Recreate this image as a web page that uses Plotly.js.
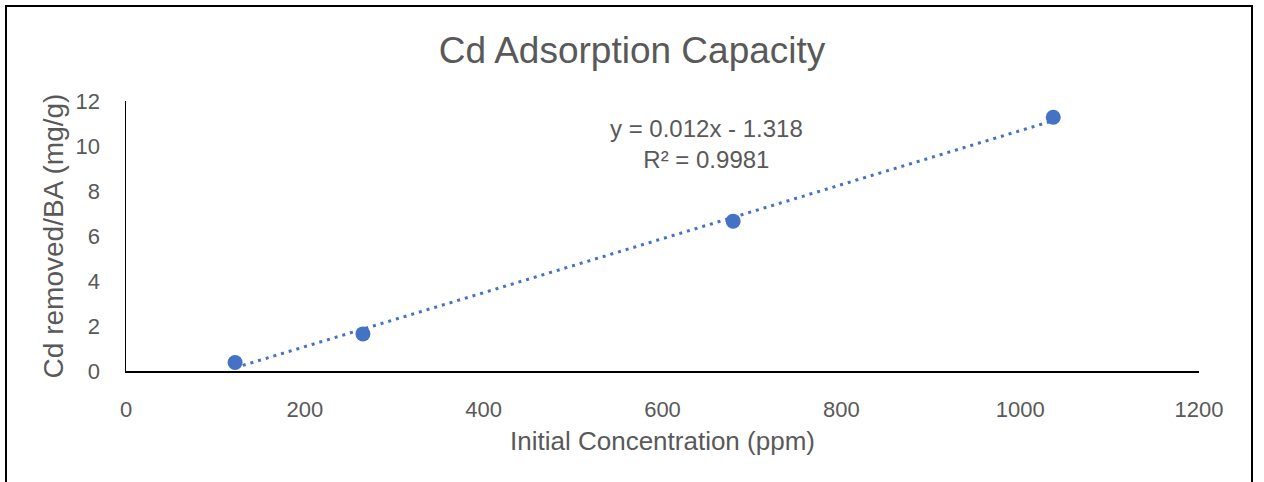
<!DOCTYPE html>
<html>
<head>
<meta charset="utf-8">
<script src="https://cdn.plot.ly/plotly-3.0.1.min.js"></script>
<style>
  html, body { margin: 0; padding: 0; background: #fff; overflow: hidden; }
  #wrap { position: relative; width: 1264px; height: 482px; }
  #chart { width: 1264px; height: 482px; }
  #frame { position: absolute; left: 5px; top: 5px; width: 1248px; height: 500px;
           border: 2px solid #000; pointer-events: none; box-sizing: border-box; }
</style>
</head>
<body>
<div id="wrap">
  <div id="chart"></div>
  <div id="frame"></div>
</div>
<script>
// Data
var concentration = [122, 265, 679, 1037];      // Initial Concentration (ppm)
var cdRemoved = [0.38, 1.65, 6.66, 11.28];      // Cd removed/BA (mg/g)
var trendSlope = 0.012;
var trendIntercept = -1.318;
var rSquared = 0.9981;
var xTicks = [0, 200, 400, 600, 800, 1000, 1200];
var yTicks = [0, 2, 4, 6, 8, 10, 12];

var xMin = Math.min.apply(null, concentration);
var xMax = Math.max.apply(null, concentration);
var trendX = [xMin, xMax];
var trendY = trendX.map(function (x) { return trendSlope * x + trendIntercept; });

var blue = '#4472C4';
var grey = '#595959';
var fontFam = 'Liberation Sans, Arial, sans-serif';

var traces = [
  {
    x: trendX, y: trendY, mode: 'lines', type: 'scatter',
    line: { color: blue, width: 3, dash: '3px,5px' },
    hoverinfo: 'skip', showlegend: false
  },
  {
    x: concentration, y: cdRemoved, mode: 'markers', type: 'scatter',
    marker: { color: blue, size: 15 },
    showlegend: false
  }
];

var layout = {
  width: 1264, height: 482,
  margin: { l: 126, r: 65, t: 101, b: 111 },
  paper_bgcolor: '#fff', plot_bgcolor: '#fff',
  font: { family: fontFam, color: grey, size: 22 },
  title: {
    text: 'Cd Adsorption Capacity',
    font: { family: fontFam, size: 37, color: grey },
    x: 0.5, xanchor: 'center', y: 1 - 50 / 482, yanchor: 'middle'
  },
  xaxis: {
    range: [0, 1200], tickvals: xTicks, ticktext: xTicks.map(String),
    showgrid: false, zeroline: false,
    showline: true, linecolor: '#000', linewidth: 1.5,
    ticks: 'outside', ticklen: 18, tickcolor: 'rgba(0,0,0,0)',
    tickfont: { family: fontFam, size: 22, color: grey },
    title: { text: 'Initial Concentration (ppm)', font: { family: fontFam, size: 26, color: grey }, standoff: 11 },
    fixedrange: true
  },
  yaxis: {
    range: [0, 12], tickvals: yTicks, ticktext: yTicks.map(String),
    showgrid: false, zeroline: false,
    showline: true, linecolor: '#000', linewidth: 1.5,
    ticks: 'outside', ticklen: 20, tickcolor: 'rgba(0,0,0,0)',
    tickfont: { family: fontFam, size: 22, color: grey },
    title: { text: 'Cd removed/BA (mg/g)', font: { family: fontFam, size: 28, color: grey }, standoff: 4 },
    fixedrange: true
  },
  annotations: [
    {
      xref: 'x', yref: 'y', x: 649, y: 10.07,
      xanchor: 'center', yanchor: 'middle', showarrow: false, align: 'center',
      text: 'y = ' + trendSlope + 'x - ' + Math.abs(trendIntercept) + '<br>R² = ' + rSquared,
      font: { family: fontFam, size: 24, color: grey }
    }
  ]
};

Plotly.newPlot('chart', traces, layout, { displayModeBar: false, staticPlot: true });
</script>
</body>
</html>
